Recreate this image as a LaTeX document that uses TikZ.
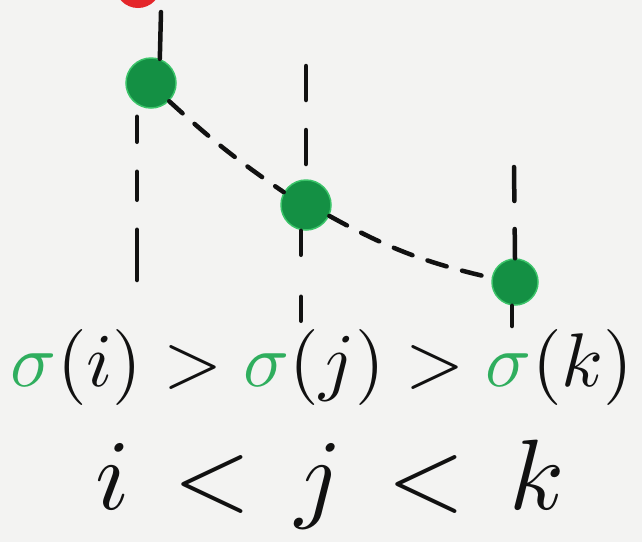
\documentclass[tikz,border=0pt]{standalone}
\usepackage{xcolor}
\usepackage{graphicx}
\definecolor{bg}{HTML}{F3F3F2}
\definecolor{dotgreen}{HTML}{149044}
\definecolor{dotedge}{HTML}{3CC46A}
\definecolor{sigmagreen}{HTML}{2FAE5E}
\definecolor{dotred}{HTML}{E4262A}
\definecolor{ink}{HTML}{111111}
\begin{document}
\begin{tikzpicture}[x=1pt,y=-1pt,
  dot/.style={circle,minimum size=#1,inner sep=0pt,fill=dotgreen,draw=dotedge,line width=1.5pt},
  reddot/.style={circle,minimum size=46pt,inner sep=0pt,fill=dotred},
  guide/.style={draw=ink,line width=4.5pt,line cap=round,dash pattern=on 26pt off 32pt},
  trail/.style={draw=ink,line width=4.5pt,line cap=round,dash pattern=on 18pt off 16pt},
  solidink/.style={draw=ink,line width=4.5pt,line cap=round}]
\fill[bg] (0,0) rectangle (642,542);
\useasboundingbox (0,0) rectangle (642,542);
% nodes
\node[reddot] (r) at (138,-15) {};
\node[dot=50pt] (g1) at (151,83) {};
\node[dot=50pt] (g2) at (306,205) {};
\node[dot=46pt] (g3) at (515,282) {};
% free ends of vertical guides
\coordinate (b1) at (137,280);
\coordinate (t2) at (306,66);
\coordinate (b2) at (301,322);
\coordinate (t3) at (514,167);
\coordinate (b3) at (512,326);
% connectors
\draw[solidink] (161,12) -- (g1.70);
\draw[guide,dash pattern=on 25pt off 30pt on 28pt off 30pt on 60pt off 10pt] ([yshift=-8pt]b1 |- g1.south) -- (b1);
\draw[guide,dash pattern=on 34pt off 30pt] (t2) -- (g2.north);
\draw[guide,dash pattern=on 24pt off 42pt] (b2 |- g2.south) -- (b2);
\draw[guide,dash pattern=on 34pt off 28pt] (t3) -- (g3.north);
\draw[guide] (b3 |- g3.south) -- (b3);
\draw[trail] (g1.-45) to[bend right=4] (g2.150);
\draw[trail,dash pattern=on 20pt off 16pt] (g2.-25) to[bend right=8] (g3.170);
% formulas
\node[inner sep=0pt] (f1) at (322,367) {\scalebox{7.6}{%
  $\color{sigmagreen}\sigma\color{ink}(i)>\color{sigmagreen}\sigma\color{ink}(j)>\color{sigmagreen}\sigma\color{ink}(k)$}};
\node[inner sep=0pt] (f2) at (330,484) {\scalebox{10}{%
  $\color{ink} i \mathrel{\,<\,} j \mathrel{\,<\,} k$}};
\end{tikzpicture}
\end{document}
